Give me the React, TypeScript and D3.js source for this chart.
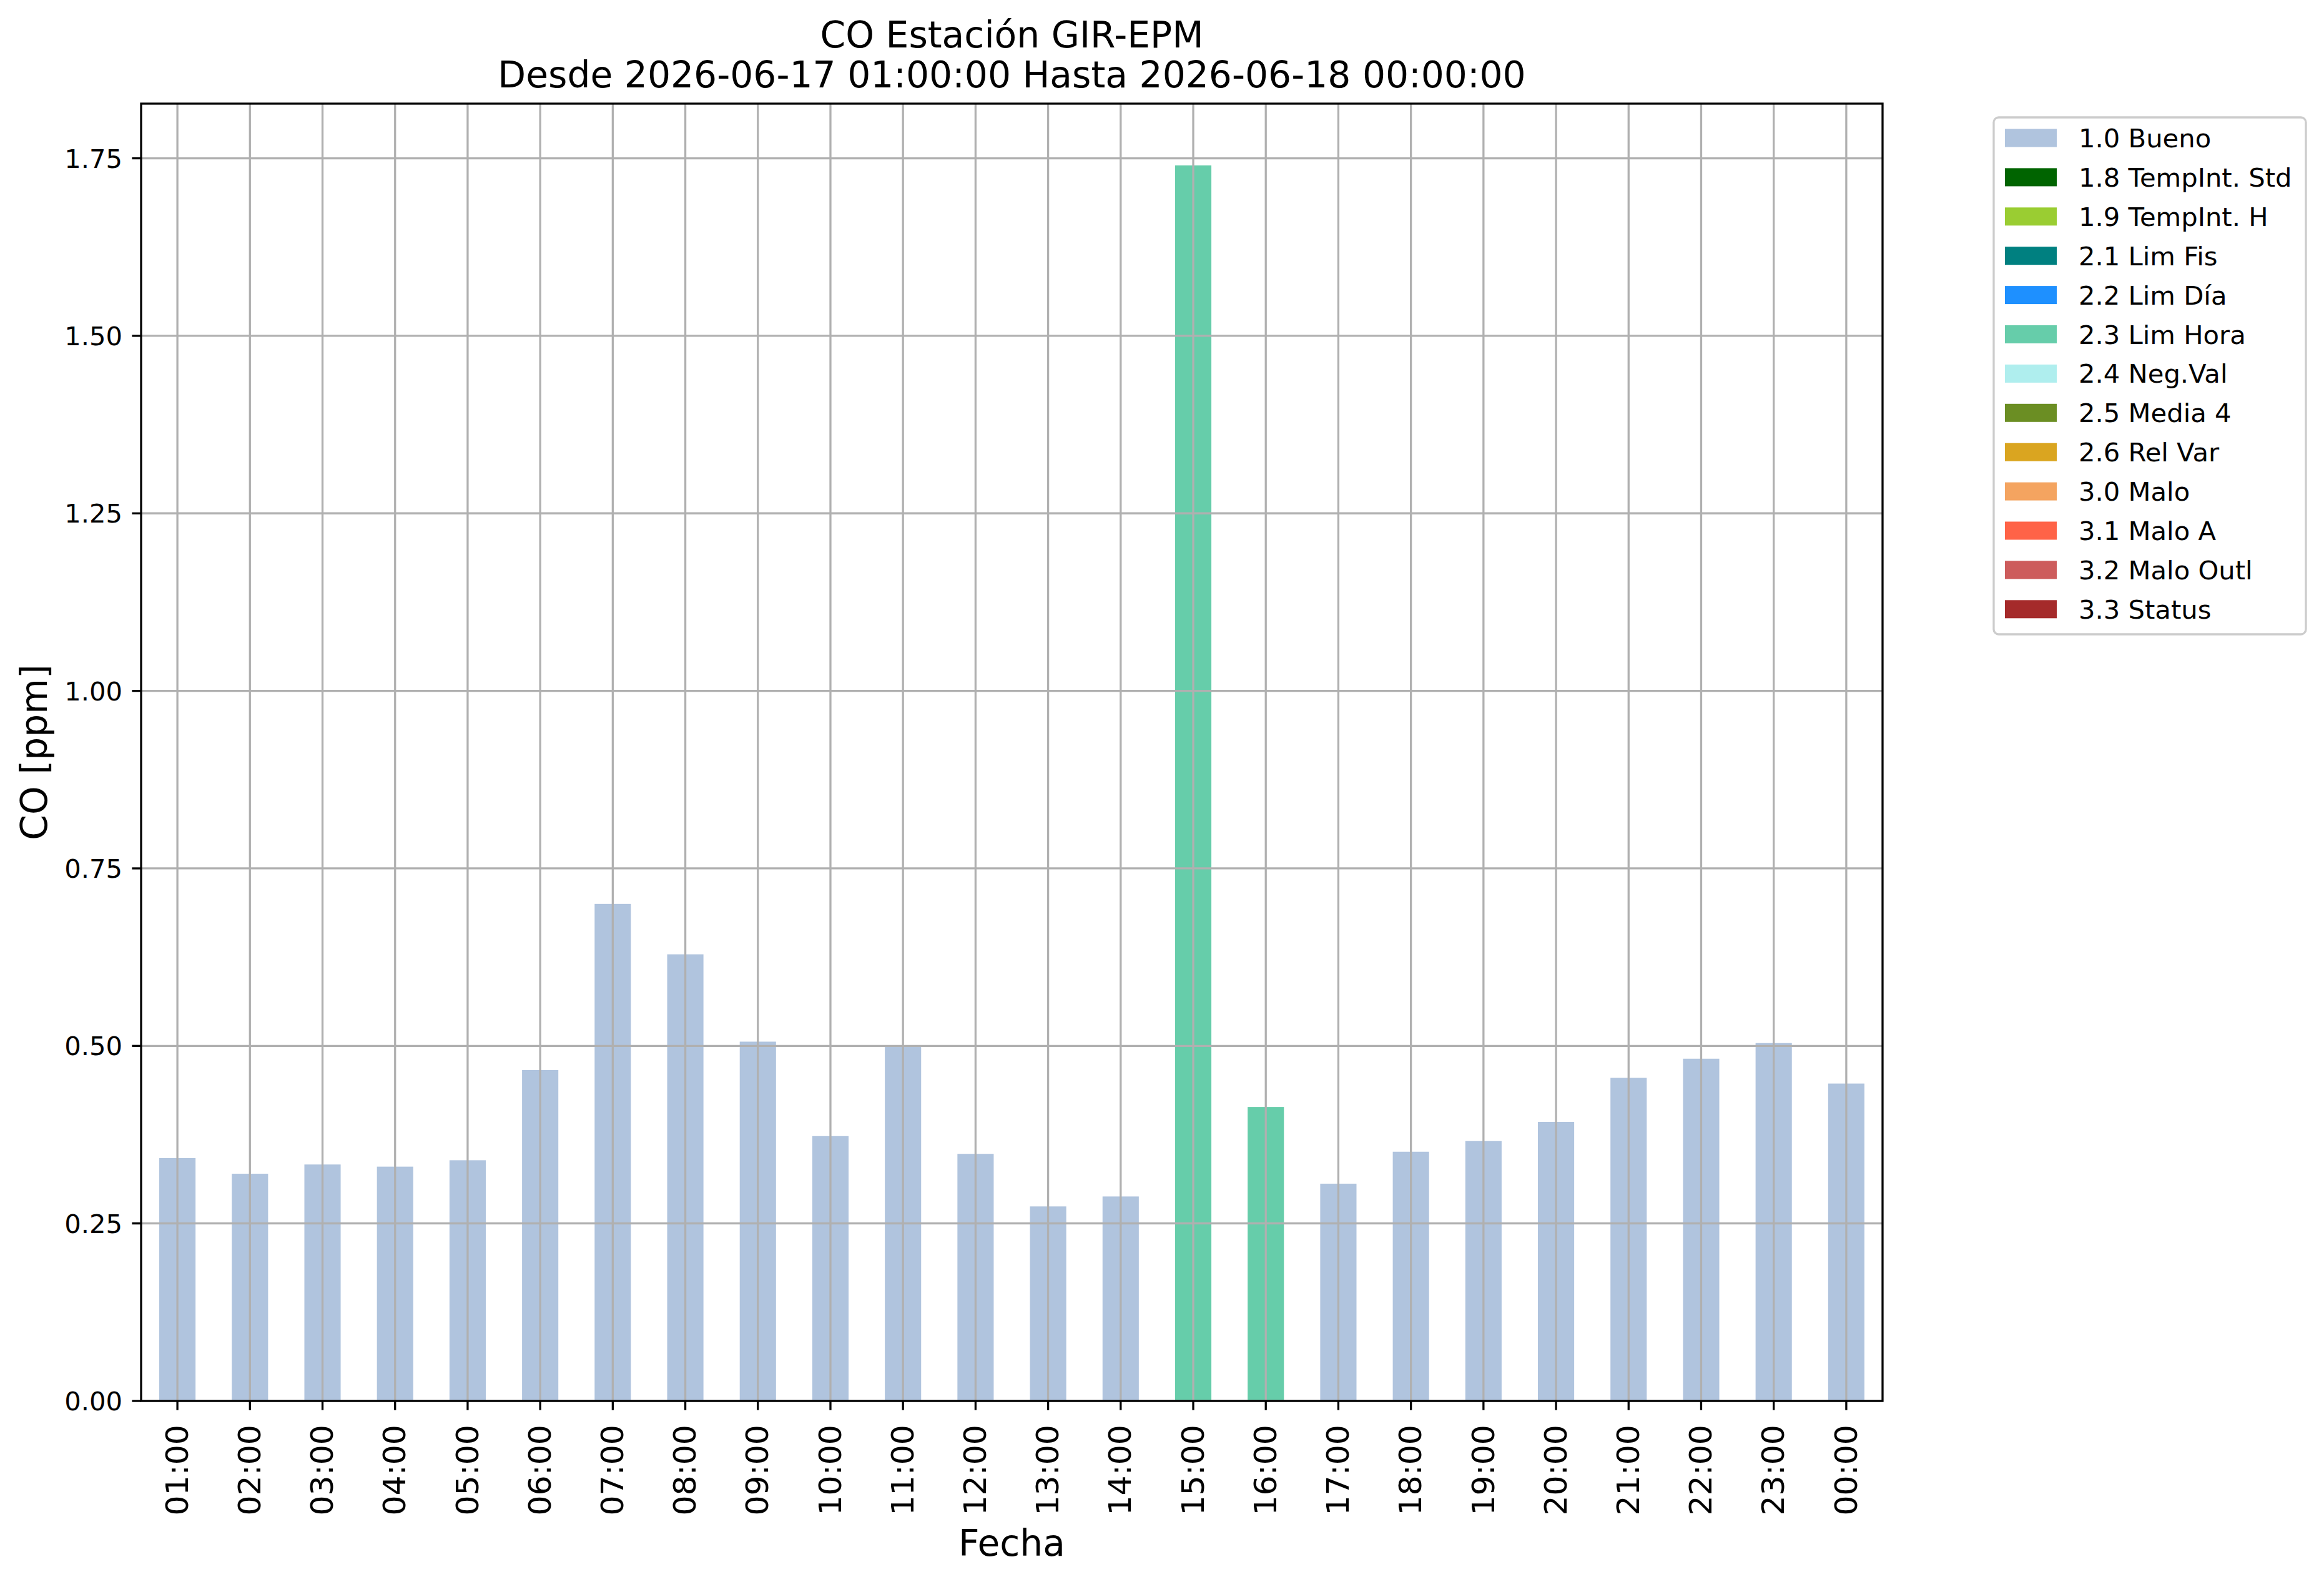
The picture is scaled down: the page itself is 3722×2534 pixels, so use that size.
import * as d3 from "d3";

// hourly CO values, 2026-06-17 01:00 .. 2026-06-18 00:00
const hours = [
  "01:00", "02:00", "03:00", "04:00", "05:00", "06:00", "07:00", "08:00",
  "09:00", "10:00", "11:00", "12:00", "13:00", "14:00", "15:00", "16:00",
  "17:00", "18:00", "19:00", "20:00", "21:00", "22:00", "23:00", "00:00",
];
const values = [
  0.342, 0.320, 0.333, 0.330, 0.339, 0.466, 0.700, 0.629,
  0.506, 0.373, 0.499, 0.348, 0.274, 0.288, 1.740, 0.414,
  0.306, 0.351, 0.366, 0.393, 0.455, 0.482, 0.504, 0.447,
];
const hourFlags = [
  "1.0 Bueno", "1.0 Bueno", "1.0 Bueno", "1.0 Bueno", "1.0 Bueno", "1.0 Bueno", "1.0 Bueno", "1.0 Bueno",
  "1.0 Bueno", "1.0 Bueno", "1.0 Bueno", "1.0 Bueno", "1.0 Bueno", "1.0 Bueno", "2.3 Lim Hora", "2.3 Lim Hora",
  "1.0 Bueno", "1.0 Bueno", "1.0 Bueno", "1.0 Bueno", "1.0 Bueno", "1.0 Bueno", "1.0 Bueno", "1.0 Bueno",
];

const flags = [
  "1.0 Bueno", "1.8 TempInt. Std", "1.9 TempInt. H", "2.1 Lim Fis", "2.2 Lim Día",
  "2.3 Lim Hora", "2.4 Neg.Val", "2.5 Media 4", "2.6 Rel Var", "3.0 Malo",
  "3.1 Malo A", "3.2 Malo Outl", "3.3 Status",
];
const flagColors = [
  "#B0C4DE", "#006400", "#9ACD32", "#008080", "#1E90FF",
  "#66CDAA", "#AFEEEE", "#6B8E23", "#DAA520", "#F4A460",
  "#FF6347", "#CD5C5C", "#A52A2A",
];
const yTicks = [0, 0.25, 0.5, 0.75, 1.0, 1.25, 1.5, 1.75];

const titleLines = [
  "CO Estación GIR-EPM",
  "Desde 2026-06-17 01:00:00 Hasta 2026-06-18 00:00:00",
];

const W = 3722;
const H = 2534;
const margin = { left: 226, right: 707, top: 166, bottom: 290 };
const font = "DejaVu Sans";
const tickFs = 41.7;
const labelFs = 58.3;
const gridColor = "#b0b0b0";

export default function App() {
  const x0 = margin.left;
  const x1 = W - margin.right;
  const y0 = H - margin.bottom;
  const y1 = margin.top;

  const x = d3.scaleBand<string>()
    .domain(hours)
    .range([x0, x1])
    .paddingInner(0.5)
    .paddingOuter(0.25);

  const y = d3.scaleLinear()
    .domain([0, (d3.max(values) as number) * 1.05])
    .range([y0, y1]);

  const color = d3.scaleOrdinal<string, string>().domain(flags).range(flagColors);
  const cx = (h: string) => (x(h) as number) + x.bandwidth() / 2;

  const legendRow = 62.9;
  const legTop = 188;
  const legLeft = 3193;

  return (
    <div style={{ position: "absolute", left: 0, top: 0 }}>
      <svg width={W} height={H} style={{ display: "block", background: "#fff" }} fontFamily={font}>
        <rect width={W} height={H} fill="#fff" />

        {/* bars */}
        {hours.map((h, i) => (
          <rect
            key={h}
            x={x(h)}
            y={y(values[i])}
            width={x.bandwidth()}
            height={y(0) - y(values[i])}
            fill={color(hourFlags[i])}
          />
        ))}

        {/* grid on top of bars */}
        <g stroke={gridColor} strokeWidth={3.3}>
          {hours.map(h => (
            <line key={h} x1={cx(h)} x2={cx(h)} y1={y0} y2={y1} />
          ))}
          {yTicks.map(t => (
            <line key={t} x1={x0} x2={x1} y1={y(t)} y2={y(t)} />
          ))}
        </g>

        {/* axes frame */}
        <rect x={x0} y={y1} width={x1 - x0} height={y0 - y1} fill="none" stroke="#000" strokeWidth={3.3} />

        {/* y ticks */}
        <g>
          {yTicks.map(t => (
            <g key={t} transform={`translate(0,${y(t)})`}>
              <line x1={x0 - 14.6} x2={x0} stroke="#000" strokeWidth={3.3} />
              <text x={x0 - 30} dy="0.36em" textAnchor="end" fontSize={tickFs}>
                {t.toFixed(2)}
              </text>
            </g>
          ))}
        </g>

        {/* x ticks */}
        <g>
          {hours.map(h => (
            <g key={h} transform={`translate(${cx(h)},${y0})`}>
              <line y1={0} y2={14.6} stroke="#000" strokeWidth={3.3} />
              <text
                transform="translate(0,38) rotate(-90)"
                textAnchor="end"
                dy="0.33em"
                fontSize={50.5}
              >
                {h}
              </text>
            </g>
          ))}
        </g>

        {/* axis labels */}
        <text x={(x0 + x1) / 2} y={2492} textAnchor="middle" fontSize={labelFs}>Fecha</text>
        <text
          transform={`translate(75,${(y0 + y1) / 2}) rotate(-90)`}
          textAnchor="middle"
          fontSize={labelFs}
        >
          CO [ppm]
        </text>

        {/* title */}
        {titleLines.map((t, i) => (
          <text key={i} x={(x0 + x1) / 2} y={76 + i * 64} textAnchor="middle" fontSize={labelFs}>
            {t}
          </text>
        ))}

        {/* legend */}
        <rect
          x={legLeft}
          y={legTop}
          width={500}
          height={828}
          rx={8}
          fill="#fff"
          stroke="#cccccc"
          strokeWidth={3.3}
        />
        {flags.map((f, i) => {
          const cy = legTop + 33 + i * legendRow;
          return (
            <g key={f}>
              <rect x={3211} y={cy - 14.5} width={83} height={29} fill={flagColors[i]} />
              <text x={3329} y={cy} dy="0.36em" fontSize={tickFs}>{f}</text>
            </g>
          );
        })}
      </svg>
    </div>
  );
}
